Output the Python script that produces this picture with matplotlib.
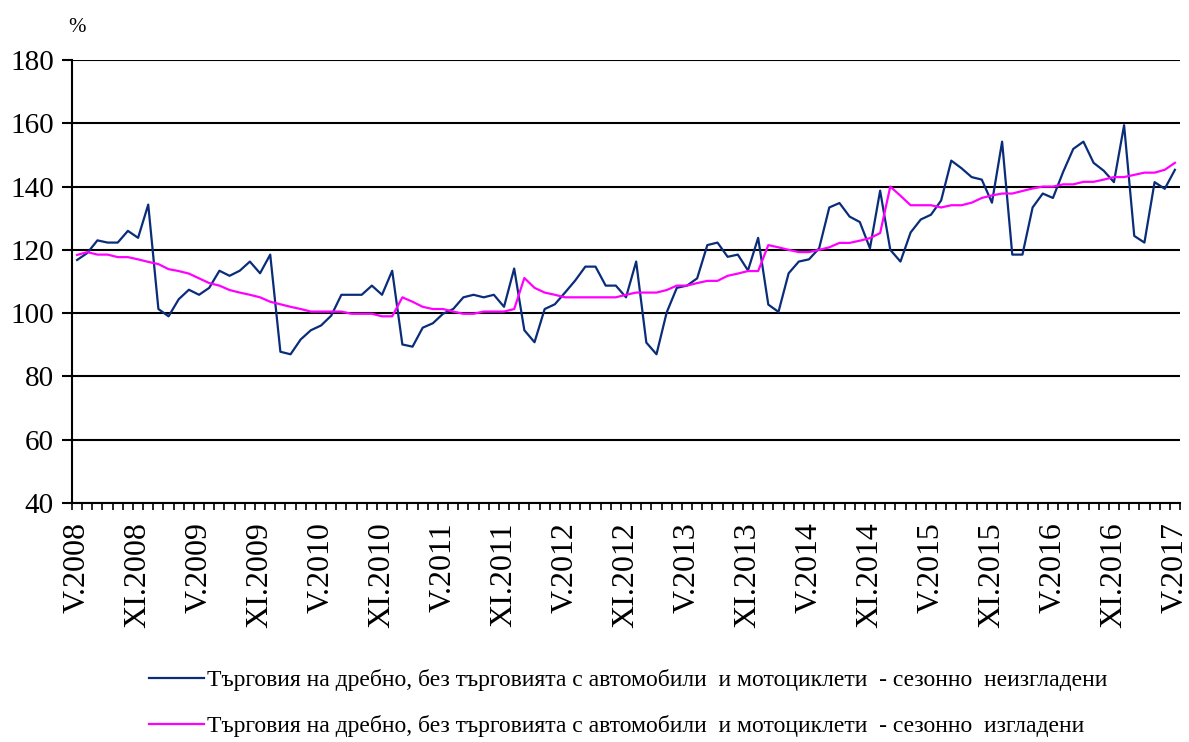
import numpy as np
import matplotlib
matplotlib.use('Agg')
import matplotlib.pyplot as plt
from matplotlib.ticker import MultipleLocator, FixedLocator

# monthly index, V.2008 .. V.2017
raw = [116.8, 119.0, 123.0, 122.3, 122.3, 126.0, 123.8, 134.3, 101.3, 99.0,
       104.4, 107.4, 105.8, 108.0, 113.4, 111.8, 113.4, 116.3, 112.6, 118.5,
       87.8, 87.0, 91.7, 94.6, 96.1, 99.2, 105.8, 105.8, 105.8, 108.7,
       105.8, 113.4, 90.1, 89.4, 95.4, 96.8, 99.8, 101.3, 105.0, 105.8,
       105.0, 105.8, 102.0, 114.1, 94.6, 90.8, 101.3, 102.8, 106.5, 110.3,
       114.7, 114.7, 108.7, 108.7, 105.0, 116.3, 90.7, 87.0, 100.2, 108.0,
       108.7, 111.0, 121.5, 122.3, 117.8, 118.5, 113.5, 123.8, 102.7, 100.4,
       112.6, 116.3, 117.0, 120.5, 133.4, 134.8, 130.5, 128.8, 120.5, 138.7,
       120.0, 116.3, 125.5, 129.6, 131.1, 135.6, 148.2, 145.8, 143.0, 142.2,
       134.9, 154.2, 118.5, 118.5, 133.4, 137.8, 136.4, 144.6, 151.9, 154.2,
       147.5, 145.0, 141.4, 159.4, 124.4, 122.3, 141.4, 139.3, 145.3]

adjusted = [118.4, 119.3, 118.5, 118.5, 117.7, 117.7, 117.0, 116.2, 115.5, 113.9,
            113.3, 112.5, 111.0, 109.5, 108.7, 107.3, 106.5, 105.8, 105.0, 103.6,
            102.8, 102.0, 101.3, 100.5, 100.5, 100.5, 100.5, 99.8, 99.8, 99.8,
            99.0, 99.0, 105.0, 103.6, 102.0, 101.3, 101.3, 100.5, 99.8, 99.8,
            100.5, 100.5, 100.5, 101.3, 111.1, 108.0, 106.5, 105.8, 105.0, 105.0,
            105.0, 105.0, 105.0, 105.0, 105.8, 106.5, 106.5, 106.5, 107.3, 108.7,
            108.7, 109.5, 110.2, 110.2, 111.8, 112.5, 113.3, 113.3, 121.5, 120.8,
            120.0, 119.3, 119.3, 120.0, 120.8, 122.2, 122.2, 122.9, 123.7, 125.3,
            140.0, 137.1, 134.1, 134.1, 134.1, 133.4, 134.1, 134.1, 134.9, 136.4,
            137.2, 137.8, 137.8, 138.6, 139.4, 140.0, 140.0, 140.7, 140.7, 141.5,
            141.5, 142.2, 143.0, 143.0, 143.7, 144.4, 144.4, 145.3, 147.5]

tick_labels = ['V.2008', 'XI.2008', 'V.2009', 'XI.2009', 'V.2010', 'XI.2010',
               'V.2011', 'XI.2011', 'V.2012', 'XI.2012', 'V.2013', 'XI.2013',
               'V.2014', 'XI.2014', 'V.2015', 'XI.2015', 'V.2016', 'XI.2016',
               'V.2017']

label_raw = 'Търговия на дребно, без търговията с автомобили  и мотоциклети  - сезонно  неизгладени'
label_adj = 'Търговия на дребно, без търговията с автомобили  и мотоциклети  - сезонно  изгладени'

plt.rcParams['font.family'] = ['Liberation Serif', 'DejaVu Serif']

fig = plt.figure(figsize=(11.89, 7.42), dpi=100)
ax = fig.add_axes([72/1189, 1 - 503/742, (1180 - 72)/1189, (503 - 60)/742])

x = np.arange(len(raw))
ax.plot(x, raw, color='#0a2d7a', lw=1.6, label=label_raw)
ax.plot(x, adjusted, color='#ff00ff', lw=1.6, label=label_adj)

ax.set_xlim(-0.5, len(raw) - 0.5)
ax.set_ylim(40, 180)
ax.yaxis.set_major_locator(MultipleLocator(20))
ax.grid(axis='y', color='black', lw=1.5)
ax.set_axisbelow(True)

ax.xaxis.set_major_locator(FixedLocator(x[::6]))
ax.set_xticklabels(tick_labels, rotation=90)
ax.xaxis.set_minor_locator(FixedLocator(np.arange(-0.5, len(raw), 1)))
ax.tick_params(axis='x', which='major', length=0, pad=14, labelsize=23)
ax.tick_params(axis='x', which='minor', length=5, width=1.2, direction='out')
ax.tick_params(axis='y', length=7, width=1.5, pad=6, labelsize=21)

for s in ['top', 'right']:
    ax.spines[s].set_visible(False)
for s in ['left', 'bottom']:
    ax.spines[s].set_linewidth(1.5)

fig.text(68/1189, 1 - 28/742, '%', fontsize=15, va='center')

fig.legend(loc='upper left', bbox_to_anchor=(140/1189, 1 - 660/742),
           frameon=False, fontsize=17, handlelength=2.3, handletextpad=0.15,
           labelspacing=1.0, borderaxespad=0)

fig.savefig('out.png', dpi=100)
